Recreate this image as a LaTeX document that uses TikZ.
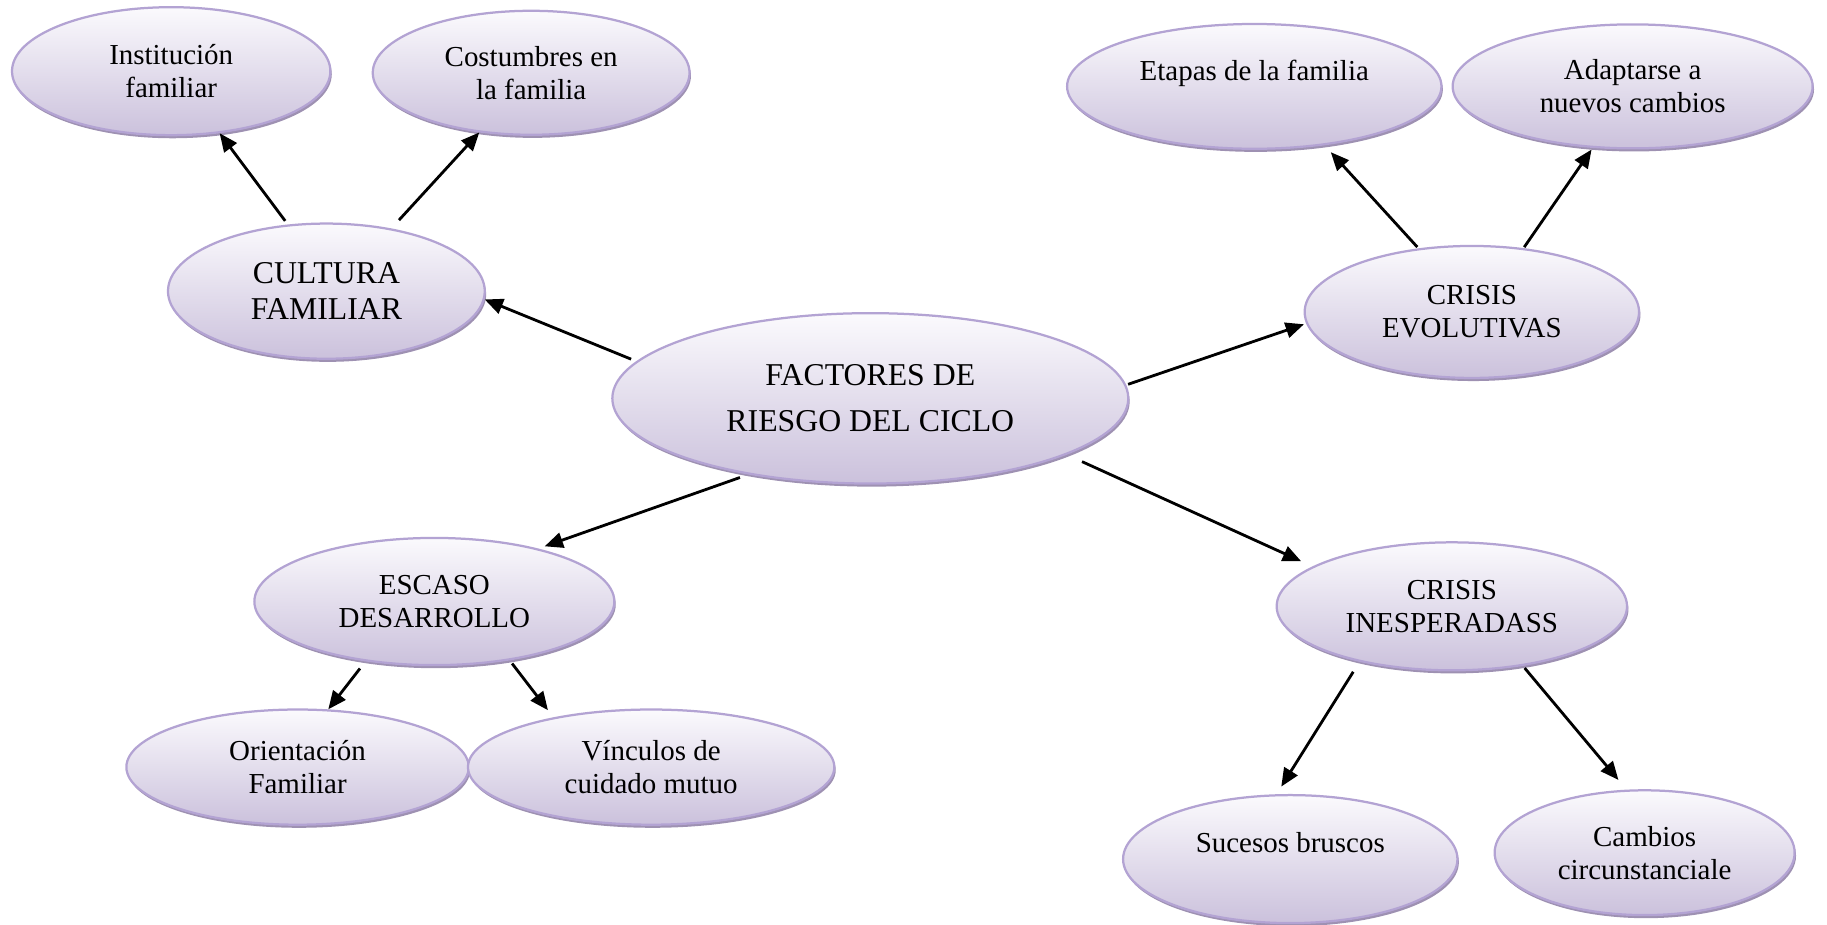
\documentclass[tikz,border=0pt]{standalone}
\usepackage{fontspec}
\setmainfont{Liberation Serif}
\usetikzlibrary{shapes.geometric,shadows,arrows.meta}

\definecolor{lavtop}{HTML}{FBFAFD}
\definecolor{lavbot}{HTML}{CBC1DC}
\definecolor{lavline}{HTML}{B3A3D3}
\definecolor{lavshadow}{HTML}{9E91B2}

\tikzset{
  bubble/.style={ellipse, draw=lavline, line width=0.8pt, top color=lavtop, bottom color=lavbot,
    inner sep=0pt, align=center,
    drop shadow={shadow xshift=0.5pt, shadow yshift=-1.1pt, fill=lavshadow, opacity=1},
    font=\fontsize{10.3}{11.7}\selectfont},
  bigbubble/.style={bubble, font=\fontsize{11.3}{13}\selectfont},
  link/.style={-{Triangle[length=6.5pt,width=5.5pt]}, line width=1pt},
}

\begin{document}
\begin{tikzpicture}
\useasboundingbox (0,0) rectangle (22.84,-11.56);

% Central idea
\node[bigbubble, minimum width=6.45cm, minimum height=2.13cm, font=\fontsize{11.3}{16.3}\selectfont] (fact) at (10.88,-4.98) {FACTORES DE\\RIESGO DEL CICLO};

% Upper left branch
\node[bubble, minimum width=3.98cm, minimum height=1.60cm] (inst) at (2.14,-0.89) {Institución\\familiar};
\node[bubble, minimum width=3.96cm, minimum height=1.55cm] (cost) at (6.64,-0.91) {Costumbres en\\la familia};
\node[bigbubble, minimum width=3.96cm, minimum height=1.69cm] (cult) at (4.08,-3.64) {CULTURA\\FAMILIAR};

% Upper right branch
\node[bubble, minimum width=4.68cm, minimum height=1.56cm] (etap) at (15.68,-1.08) {Etapas de la familia\\~};
\node[bubble, minimum width=4.50cm, minimum height=1.55cm] (adap) at (20.41,-1.08) {Adaptarse a\\nuevos cambios};
\node[bubble, minimum width=4.18cm, minimum height=1.65cm] (evol) at (18.40,-3.90) {CRISIS\\EVOLUTIVAS};

% Lower left branch
\node[bubble, minimum width=4.50cm, minimum height=1.59cm] (esc) at (5.43,-7.52) {ESCASO\\DESARROLLO};
\node[bubble, minimum width=4.28cm, minimum height=1.44cm] (orie) at (3.72,-9.59) {Orientación\\Familiar};
\node[bubble, minimum width=4.58cm, minimum height=1.44cm] (vinc) at (8.14,-9.59) {Vínculos de\\cuidado mutuo};

% Lower right branch
\node[bubble, minimum width=4.38cm, minimum height=1.60cm] (inesp) at (18.15,-7.58) {CRISIS\\INESPERADASS};
\node[bubble, minimum width=4.18cm, minimum height=1.60cm] (suce) at (16.13,-10.74) {Sucesos bruscos\\~};
\node[bubble, minimum width=3.75cm, minimum height=1.56cm] (camb) at (20.56,-10.66) {Cambios\\circunstanciale};

% Arrows
\draw[link, shorten <=2pt] (fact.171) -- (cult.-3);
\draw[link, shorten <=1.6pt] (cult.120) -- (inst.-52);
\draw[link, shorten <=4pt] (cult.44) -- (cost.-131);
\draw[link, shorten <=0.7pt, shorten >=0.8pt] (fact.3) -- (evol.184);
\draw[link, shorten <=0.6pt, shorten >=3.3pt] (evol.130) -- (etap.-40);
\draw[link, shorten <=0.4pt, shorten >=0.7pt] (evol.51) -- (adap.-123);
\draw[link, shorten <=3.2pt, shorten >=2.4pt] (fact.-148) -- (esc.27);
\draw[link, shorten <=6pt, shorten >=4.5pt] (fact.-16) -- (inesp.164);
\draw[link, shorten <=3.2pt] (esc.-139) -- (orie.62);
\draw[link, shorten <=1.4pt, shorten >=3.2pt] (esc.-38) -- (vinc.153);
\draw[link, shorten <=4.2pt, shorten >=3.2pt] (inesp.-149) -- (suce.102);
\draw[link, shorten <=1pt, shorten >=4.5pt] (inesp.-40) -- (camb.106);
\end{tikzpicture}
\end{document}
